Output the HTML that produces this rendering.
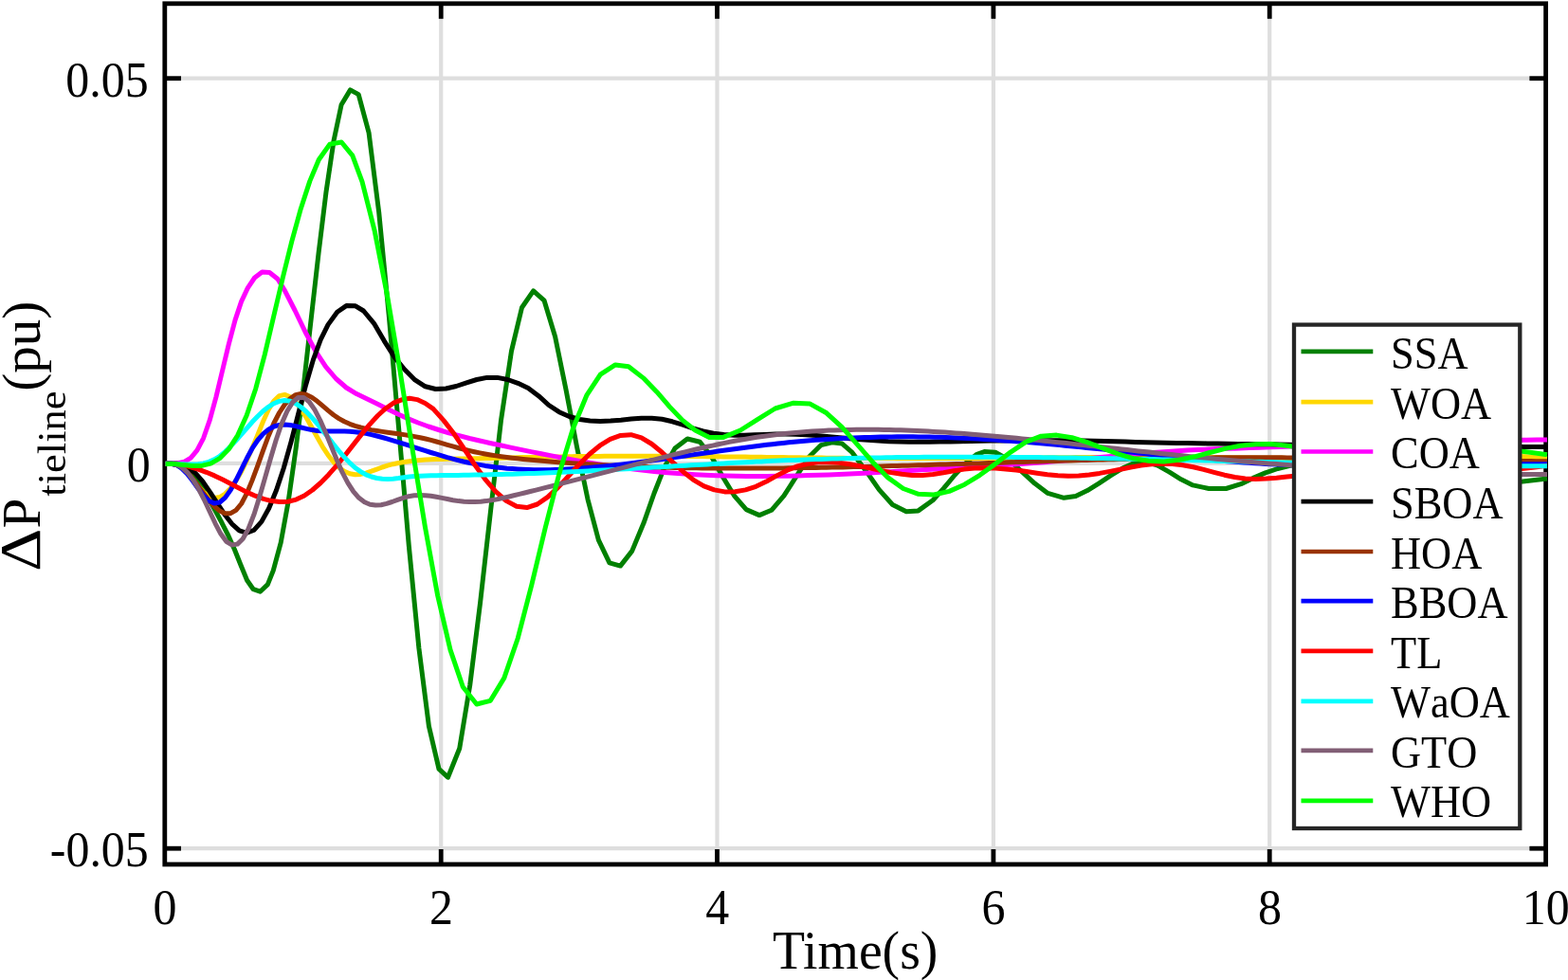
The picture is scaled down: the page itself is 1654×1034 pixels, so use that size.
<!DOCTYPE html>
<html lang="en"><head><meta charset="utf-8"><title>Tie-line power deviation</title>
<style>
html,body{margin:0;padding:0;background:#fff;}
body{width:1654px;height:1034px;overflow:hidden;font-family:"Liberation Serif","Times New Roman",serif;}
svg{display:block;filter:blur(0.45px);}
</style></head><body>
<svg width="1654" height="1034" viewBox="0 0 1654 1034" role="img" aria-label="Tie-line power deviation versus time for ten optimisation algorithms">
<rect x="0" y="0" width="1654" height="1034" fill="#ffffff"/>
<g stroke="#dedede" stroke-width="4.2" fill="none">
<line x1="465.2" y1="3.8" x2="465.2" y2="912.0"/>
<line x1="756.5" y1="3.8" x2="756.5" y2="912.0"/>
<line x1="1047.9" y1="3.8" x2="1047.9" y2="912.0"/>
<line x1="1339.2" y1="3.8" x2="1339.2" y2="912.0"/>
<line x1="173.8" y1="82.7" x2="1630.6" y2="82.7"/>
<line x1="173.8" y1="488.8" x2="1630.6" y2="488.8"/>
<line x1="173.8" y1="895.2" x2="1630.6" y2="895.2"/>
</g>
<g stroke="#000000" stroke-width="4.8" fill="none" stroke-linecap="butt">
<rect x="173.8" y="3.8" width="1456.8" height="908.2"/>
<line x1="465.2" y1="912.0" x2="465.2" y2="896.0"/>
<line x1="465.2" y1="3.8" x2="465.2" y2="19.8"/>
<line x1="756.5" y1="912.0" x2="756.5" y2="896.0"/>
<line x1="756.5" y1="3.8" x2="756.5" y2="19.8"/>
<line x1="1047.9" y1="912.0" x2="1047.9" y2="896.0"/>
<line x1="1047.9" y1="3.8" x2="1047.9" y2="19.8"/>
<line x1="1339.2" y1="912.0" x2="1339.2" y2="896.0"/>
<line x1="1339.2" y1="3.8" x2="1339.2" y2="19.8"/>
<line x1="173.8" y1="82.7" x2="191.0" y2="82.7"/>
<line x1="1630.6" y1="82.7" x2="1613.3999999999999" y2="82.7"/>
<line x1="173.8" y1="488.8" x2="191.0" y2="488.8"/>
<line x1="1630.6" y1="488.8" x2="1613.3999999999999" y2="488.8"/>
<line x1="173.8" y1="895.2" x2="191.0" y2="895.2"/>
<line x1="1630.6" y1="895.2" x2="1613.3999999999999" y2="895.2"/>
</g>
<clipPath id="ax"><rect x="171.3" y="3.8" width="1461.8" height="908.2"/></clipPath>
<g fill="none" stroke-width="5.0" stroke-linejoin="round" stroke-linecap="butt" clip-path="url(#ax)">
<polyline stroke="#008000" points="174.6,489.3 181.2,489.4 187.8,490.6 194.4,493.4 201.1,498.6 207.7,506.4 214.3,516.2 220.9,527.5 227.5,539.5 234.1,551.8 240.8,565.0 247.4,579.7 254.0,596.2 260.6,612.2 267.2,621.7 274.4,624.2 282.4,616.6 288.2,602.1 296.2,572.6 304.2,528.7 312.2,472.7 320.2,407.7 328.1,337.3 336.1,266.8 344.1,201.8 352.1,148.2 360.1,110.5 369.5,94.9 378.2,99.6 389.1,140.2 399.7,224.0 410.2,332.3 420.8,454.0 431.3,575.7 441.9,684.0 452.4,766.1 463.0,811.4 472.5,820.2 484.7,789.8 495.7,723.1 506.6,635.8 517.6,538.5 528.6,442.8 539.5,370.3 550.5,324.5 562.6,306.9 574.1,317.2 585.6,355.3 597.0,411.1 608.5,471.4 620.0,526.8 631.4,569.9 642.9,593.8 654.4,597.1 666.7,581.4 679.0,551.8 690.0,520.5 701.0,492.6 712.0,472.9 725.1,463.0 738.3,466.3 750.5,481.7 762.8,503.8 775.0,523.7 787.2,537.6 801.0,543.6 813.8,538.3 826.9,523.2 840.0,502.7 853.0,482.6 866.1,469.6 877.7,466.7 888.3,468.1 899.0,477.4 913.2,496.4 927.3,516.6 941.5,532.5 956.0,539.7 968.6,538.9 984.1,527.7 995.7,514.9 1007.3,501.0 1018.9,488.4 1030.5,479.3 1038.3,476.6 1049.9,477.2 1063.8,484.9 1077.6,497.4 1091.5,510.1 1105.3,520.4 1122.3,525.3 1134.7,523.5 1147.0,517.6 1159.4,509.9 1171.8,501.6 1184.1,494.1 1196.5,488.6 1208.8,487.2 1221.2,491.1 1233.6,498.2 1245.9,505.8 1258.3,511.9 1275.2,515.5 1293.3,515.5 1309.0,510.7 1321.9,504.4 1334.8,498.9 1347.8,494.5 1360.7,491.3 1373.6,489.1 1386.5,487.8 1399.4,487.2 1412.4,487.4 1425.3,488.2 1438.2,489.5 1451.1,491.3 1464.0,493.3 1477.0,495.5 1489.9,497.9 1502.8,500.3 1515.7,502.6 1528.6,504.7 1541.6,506.5 1554.5,508.0 1567.4,509.0 1580.3,509.4 1593.2,509.1 1606.2,508.1 1619.1,506.4 1632.0,505.1"/>
<polyline stroke="#ffd700" points="174.6,489.3 180.3,489.3 186.0,490.4 191.7,493.7 197.5,499.0 203.2,505.6 208.9,512.7 214.6,519.1 220.3,523.6 226.0,525.4 231.8,524.6 237.5,521.1 243.2,515.3 248.9,507.3 254.6,497.4 260.3,485.8 266.0,473.0 271.8,459.0 277.5,444.8 283.2,432.3 288.9,423.0 294.6,417.6 300.3,416.4 306.1,418.7 311.8,424.0 317.5,431.6 323.2,440.8 328.9,450.9 334.6,461.3 340.3,471.3 346.1,480.2 351.8,487.5 357.5,493.2 363.2,497.2 368.9,499.7 374.6,500.7 380.4,500.4 386.1,499.1 391.8,497.2 397.5,495.1 403.2,493.0 408.9,491.2 414.6,489.7 420.4,488.5 426.1,487.5 431.8,486.7 437.5,486.0 443.2,485.5 448.9,485.1 454.6,484.8 460.4,484.6 466.1,484.4 471.8,484.3 477.5,484.2 483.2,484.1 488.9,484.0 494.7,483.9 500.4,483.8 506.1,483.7 511.8,483.5 517.5,483.4 523.2,483.3 528.9,483.2 534.7,483.0 540.4,482.9 546.1,482.8 551.8,482.6 557.5,482.5 563.2,482.4 569.0,482.3 574.7,482.2 580.4,482.1 586.1,482.0 591.8,481.9 597.5,481.8 603.2,481.7 609.0,481.6 614.7,481.5 620.4,481.5 626.1,481.4 631.8,481.4 637.5,481.3 643.3,481.3 649.0,481.3 654.7,481.3 660.4,481.3 666.1,481.3 671.8,481.3 677.5,481.3 683.3,481.3 689.0,481.3 694.7,481.3 700.4,481.3 706.1,481.4 711.8,481.4 717.6,481.4 723.3,481.5 729.0,481.5 734.7,481.6 740.4,481.6 746.1,481.7 751.8,481.8 757.6,481.8 763.3,481.9 769.0,481.9 774.7,482.0 780.4,482.1 786.1,482.1 791.9,482.2 797.6,482.3 803.3,482.3 809.0,482.4 814.7,482.5 820.4,482.6 826.1,482.6 831.9,482.7 837.6,482.8 843.3,482.8 849.0,482.9 854.7,483.0 860.4,483.0 866.2,483.1 871.9,483.2 877.6,483.2 883.3,483.3 889.0,483.3 894.7,483.4 900.4,483.4 906.2,483.4 911.9,483.5 917.6,483.5 923.3,483.5 929.0,483.6 934.7,483.6 940.4,483.6 946.2,483.6 951.9,483.6 957.6,483.6 963.3,483.6 969.0,483.6 974.7,483.6 980.5,483.6 986.2,483.6 991.9,483.6 997.6,483.5 1003.3,483.5 1009.0,483.5 1014.7,483.5 1020.5,483.4 1026.2,483.4 1031.9,483.4 1037.6,483.3 1043.3,483.3 1049.0,483.2 1054.8,483.2 1060.5,483.2 1066.2,483.1 1071.9,483.1 1077.6,483.0 1083.3,483.0 1089.0,482.9 1094.8,482.9 1100.5,482.9 1106.2,482.8 1111.9,482.8 1117.6,482.7 1123.3,482.7 1129.1,482.7 1134.8,482.6 1140.5,482.6 1146.2,482.5 1151.9,482.5 1157.6,482.5 1163.3,482.5 1169.1,482.4 1174.8,482.4 1180.5,482.4 1186.2,482.4 1191.9,482.4 1197.6,482.4 1203.4,482.4 1209.1,482.4 1214.8,482.4 1220.5,482.4 1226.2,482.4 1231.9,482.4 1237.6,482.4 1243.4,482.4 1249.1,482.5 1254.8,482.5 1260.5,482.5 1266.2,482.6 1271.9,482.6 1277.7,482.7 1283.4,482.7 1289.1,482.8 1294.8,482.8 1300.5,482.9 1306.2,482.9 1311.9,483.0 1317.7,483.1 1323.4,483.1 1329.1,483.2 1334.8,483.2 1340.5,483.2 1346.2,483.3 1352.0,483.3 1357.7,483.4 1363.4,483.4 1369.1,483.4 1374.8,483.4 1380.5,483.4 1386.2,483.4 1392.0,483.4 1397.7,483.4 1403.4,483.4 1409.1,483.3 1414.8,483.3 1420.5,483.2 1426.2,483.2 1432.0,483.1 1437.7,483.1 1443.4,483.0 1449.1,482.9 1454.8,482.8 1460.5,482.7 1466.3,482.6 1472.0,482.5 1477.7,482.4 1483.4,482.2 1489.1,482.1 1494.8,481.9 1500.5,481.8 1506.3,481.6 1512.0,481.4 1517.7,481.2 1523.4,481.1 1529.1,480.9 1534.8,480.7 1540.6,480.6 1546.3,480.5 1552.0,480.4 1557.7,480.3 1563.4,480.3 1569.1,480.3 1574.8,480.4 1580.6,480.5 1586.3,480.6 1592.0,480.8 1597.7,481.1 1603.4,481.4 1609.1,481.8 1614.9,482.2 1620.6,482.7 1626.3,483.1 1632.0,483.4"/>
<polyline stroke="#ff00ff" points="174.6,489.3 181.3,489.2 187.9,488.8 194.6,487.2 201.3,483.1 207.9,475.2 214.6,462.3 221.3,443.1 228.0,418.6 234.6,391.0 241.3,363.1 248.0,337.9 254.6,318.1 261.3,303.9 268.6,293.0 276.5,286.9 284.3,287.5 292.8,294.2 300.3,306.3 311.1,327.5 322.0,350.2 332.8,370.4 343.6,386.8 354.4,399.5 365.3,409.0 376.1,415.6 386.9,420.8 397.7,426.0 408.6,431.5 419.4,436.8 430.2,441.6 441.0,446.0 451.9,450.0 462.7,453.5 473.5,456.8 484.4,459.7 495.2,462.5 506.0,465.0 516.8,467.5 527.7,469.8 538.5,472.1 549.3,474.4 560.1,476.6 571.0,478.8 581.8,480.9 592.6,483.0 603.5,485.0 614.3,486.9 625.1,488.7 635.9,490.4 646.8,492.1 657.6,493.6 668.4,495.0 679.2,496.3 690.1,497.4 700.9,498.4 711.7,499.3 722.5,500.1 733.4,500.7 744.2,501.3 755.0,501.7 765.9,502.0 776.7,502.3 787.5,502.4 798.3,502.5 809.2,502.4 820.0,502.3 830.8,502.2 841.6,501.9 852.5,501.6 863.3,501.3 874.1,500.9 884.9,500.4 895.8,499.9 906.6,499.4 917.4,498.9 928.3,498.3 939.1,497.7 949.9,497.1 960.7,496.5 971.6,495.8 982.4,495.2 993.2,494.6 1004.0,494.0 1014.9,493.4 1025.7,492.7 1036.5,492.1 1047.4,491.4 1058.2,490.7 1069.0,490.0 1079.8,489.3 1090.7,488.5 1101.5,487.7 1112.3,486.8 1123.1,485.9 1134.0,484.9 1144.8,483.9 1155.6,482.9 1166.4,481.9 1177.3,480.9 1188.1,479.9 1198.9,479.0 1209.8,478.1 1220.6,477.2 1231.4,476.5 1242.2,475.7 1253.1,475.1 1263.9,474.6 1274.7,474.1 1285.5,473.6 1296.4,473.3 1307.2,472.9 1318.0,472.5 1328.8,472.2 1339.7,471.8 1350.5,471.5 1361.3,471.1 1372.2,470.7 1383.0,470.4 1393.8,470.0 1404.6,469.6 1415.5,469.2 1426.3,468.8 1437.1,468.5 1447.9,468.1 1458.8,467.7 1469.6,467.4 1480.4,467.0 1491.3,466.7 1502.1,466.3 1512.9,466.0 1523.7,465.7 1534.6,465.5 1545.4,465.2 1556.2,465.0 1567.0,464.8 1577.9,464.6 1588.7,464.4 1599.5,464.3 1610.3,464.2 1621.2,464.1 1632.0,464.0"/>
<polyline stroke="#000000" points="174.6,489.3 182.4,489.5 190.2,490.6 198.0,493.4 205.8,498.9 213.6,507.7 221.3,518.8 229.1,530.9 236.9,542.7 244.7,552.8 252.5,559.8 260.3,562.3 268.1,559.2 275.9,550.4 283.7,536.3 291.5,517.3 299.3,493.8 307.0,466.4 314.8,436.1 322.6,406.2 330.4,379.6 338.2,358.4 346.0,342.6 355.7,329.3 365.3,322.6 375.0,322.8 383.5,328.0 394.4,341.1 405.2,359.6 416.1,376.8 426.9,390.0 437.8,400.9 448.6,407.8 459.5,410.5 470.4,410.0 481.2,407.5 492.1,403.9 502.9,400.5 513.8,398.4 524.6,398.4 535.5,400.5 546.3,404.3 557.2,409.5 568.1,417.7 578.9,427.5 589.8,434.7 600.6,439.5 611.5,442.5 622.3,444.0 633.2,444.4 644.1,444.0 654.9,443.2 665.8,442.1 676.6,441.3 687.5,441.2 698.3,442.3 709.2,444.8 720.1,448.1 730.9,451.8 741.8,455.0 752.6,457.3 763.5,458.6 774.3,459.2 785.2,459.2 796.0,458.8 806.9,458.4 817.8,458.1 828.6,458.0 839.5,458.3 850.3,458.8 861.2,459.6 872.0,460.4 882.9,461.4 893.8,462.4 904.6,463.4 915.5,464.3 926.3,465.1 937.2,465.7 948.0,466.0 958.9,466.2 969.8,466.3 980.6,466.3 991.5,466.1 1002.3,466.0 1013.2,465.7 1024.0,465.5 1034.9,465.3 1045.7,465.1 1056.6,465.0 1067.5,464.8 1078.3,464.8 1089.2,464.7 1100.0,464.7 1110.9,464.7 1121.7,464.8 1132.6,465.0 1143.5,465.1 1154.3,465.3 1165.2,465.6 1176.0,465.8 1186.9,466.1 1197.7,466.4 1208.6,466.7 1219.5,466.9 1230.3,467.2 1241.2,467.4 1252.0,467.6 1262.9,467.8 1273.7,467.9 1284.6,468.1 1295.4,468.2 1306.3,468.4 1317.2,468.5 1328.0,468.7 1338.9,468.8 1349.7,469.0 1360.6,469.2 1371.4,469.4 1382.3,469.6 1393.2,469.7 1404.0,469.9 1414.9,470.1 1425.7,470.3 1436.6,470.4 1447.4,470.6 1458.3,470.8 1469.2,470.9 1480.0,471.1 1490.9,471.2 1501.7,471.3 1512.6,471.4 1523.4,471.5 1534.3,471.6 1545.1,471.6 1556.0,471.7 1566.9,471.7 1577.7,471.7 1588.6,471.7 1599.4,471.6 1610.3,471.6 1621.1,471.5 1632.0,471.4"/>
<polyline stroke="#993300" points="174.6,489.4 180.3,489.3 186.0,490.3 191.7,493.2 197.5,498.2 203.2,504.9 208.9,512.5 214.6,520.3 220.3,527.8 226.0,534.3 231.8,539.1 237.5,541.7 243.2,541.7 248.9,538.4 254.6,531.5 260.3,520.7 266.0,506.9 271.8,491.3 277.5,475.3 283.2,460.0 288.9,446.5 294.6,435.5 300.3,426.8 306.1,420.5 311.8,416.7 317.5,415.4 323.2,416.5 328.9,419.3 334.6,423.3 340.3,428.1 346.1,433.1 351.8,437.7 357.5,441.6 363.2,444.8 368.9,447.3 374.6,449.4 380.4,451.0 386.1,452.4 391.8,453.6 397.5,454.5 403.2,455.4 408.9,456.2 414.6,457.0 420.4,457.7 426.1,458.6 431.8,459.5 437.5,460.6 443.2,461.7 448.9,463.0 454.6,464.4 460.4,466.0 466.1,467.6 471.8,469.3 477.5,470.9 483.2,472.5 488.9,474.0 494.7,475.4 500.4,476.7 506.1,477.9 511.8,479.0 517.5,480.0 523.2,480.9 528.9,481.7 534.7,482.5 540.4,483.2 546.1,483.8 551.8,484.4 557.5,485.0 563.2,485.5 569.0,486.0 574.7,486.5 580.4,487.0 586.1,487.4 591.8,487.9 597.5,488.3 603.2,488.7 609.0,489.1 614.7,489.4 620.4,489.8 626.1,490.1 631.8,490.5 637.5,490.8 643.3,491.1 649.0,491.3 654.7,491.6 660.4,491.8 666.1,492.1 671.8,492.3 677.5,492.5 683.3,492.7 689.0,492.9 694.7,493.0 700.4,493.2 706.1,493.3 711.8,493.4 717.6,493.6 723.3,493.7 729.0,493.7 734.7,493.8 740.4,493.9 746.1,494.0 751.8,494.0 757.6,494.1 763.3,494.1 769.0,494.1 774.7,494.1 780.4,494.1 786.1,494.1 791.9,494.1 797.6,494.1 803.3,494.1 809.0,494.0 814.7,494.0 820.4,493.9 826.1,493.9 831.9,493.8 837.6,493.7 843.3,493.7 849.0,493.6 854.7,493.5 860.4,493.4 866.2,493.3 871.9,493.2 877.6,493.1 883.3,493.0 889.0,492.9 894.7,492.7 900.4,492.6 906.2,492.5 911.9,492.4 917.6,492.2 923.3,492.1 929.0,491.9 934.7,491.8 940.4,491.6 946.2,491.5 951.9,491.3 957.6,491.2 963.3,491.0 969.0,490.8 974.7,490.7 980.5,490.5 986.2,490.3 991.9,490.1 997.6,490.0 1003.3,489.8 1009.0,489.6 1014.7,489.4 1020.5,489.3 1026.2,489.1 1031.9,488.9 1037.6,488.7 1043.3,488.5 1049.0,488.4 1054.8,488.2 1060.5,488.0 1066.2,487.8 1071.9,487.6 1077.6,487.5 1083.3,487.3 1089.0,487.1 1094.8,486.9 1100.5,486.7 1106.2,486.6 1111.9,486.4 1117.6,486.2 1123.3,486.1 1129.1,485.9 1134.8,485.7 1140.5,485.6 1146.2,485.4 1151.9,485.3 1157.6,485.1 1163.3,485.0 1169.1,484.8 1174.8,484.7 1180.5,484.5 1186.2,484.4 1191.9,484.3 1197.6,484.1 1203.4,484.0 1209.1,483.9 1214.8,483.8 1220.5,483.7 1226.2,483.6 1231.9,483.5 1237.6,483.4 1243.4,483.3 1249.1,483.2 1254.8,483.1 1260.5,483.0 1266.2,483.0 1271.9,482.9 1277.7,482.9 1283.4,482.8 1289.1,482.8 1294.8,482.7 1300.5,482.7 1306.2,482.7 1311.9,482.7 1317.7,482.7 1323.4,482.7 1329.1,482.7 1334.8,482.7 1340.5,482.7 1346.2,482.8 1352.0,482.8 1357.7,482.9 1363.4,482.9 1369.1,483.0 1374.8,483.0 1380.5,483.1 1386.2,483.2 1392.0,483.2 1397.7,483.3 1403.4,483.4 1409.1,483.5 1414.8,483.6 1420.5,483.7 1426.2,483.8 1432.0,483.9 1437.7,484.0 1443.4,484.1 1449.1,484.2 1454.8,484.3 1460.5,484.4 1466.3,484.5 1472.0,484.6 1477.7,484.7 1483.4,484.8 1489.1,484.9 1494.8,485.0 1500.5,485.2 1506.3,485.3 1512.0,485.4 1517.7,485.5 1523.4,485.6 1529.1,485.7 1534.8,485.8 1540.6,485.8 1546.3,485.9 1552.0,486.0 1557.7,486.1 1563.4,486.2 1569.1,486.3 1574.8,486.3 1580.6,486.4 1586.3,486.4 1592.0,486.5 1597.7,486.5 1603.4,486.6 1609.1,486.6 1614.9,486.6 1620.6,486.7 1626.3,486.7 1632.0,486.7"/>
<polyline stroke="#0000ff" points="174.6,489.3 180.3,489.3 186.0,490.5 191.7,494.2 197.5,500.0 203.2,507.3 208.9,515.3 214.6,522.7 220.3,528.4 226.0,531.1 231.8,530.0 237.5,525.1 243.2,517.1 248.9,506.8 254.6,495.3 260.3,483.8 266.0,473.2 271.8,464.5 277.5,457.9 283.2,453.1 288.9,450.0 294.6,448.4 300.3,448.0 306.1,448.5 311.8,449.6 317.5,451.0 323.2,452.4 328.9,453.6 334.6,454.4 340.3,454.8 346.1,455.0 351.8,455.1 357.5,455.1 363.2,455.1 368.9,455.3 374.6,455.8 380.4,456.5 386.1,457.4 391.8,458.6 397.5,460.0 403.2,461.5 408.9,463.2 414.6,464.9 420.4,466.6 426.1,468.4 431.8,470.2 437.5,472.1 443.2,473.9 448.9,475.7 454.6,477.5 460.4,479.2 466.1,480.9 471.8,482.6 477.5,484.1 483.2,485.6 488.9,487.0 494.7,488.2 500.4,489.4 506.1,490.4 511.8,491.4 517.5,492.2 523.2,493.0 528.9,493.6 534.7,494.2 540.4,494.6 546.1,495.0 551.8,495.3 557.5,495.5 563.2,495.7 569.0,495.8 574.7,495.8 580.4,495.7 586.1,495.6 591.8,495.4 597.5,495.1 603.2,494.8 609.0,494.5 614.7,494.1 620.4,493.6 626.1,493.1 631.8,492.6 637.5,492.0 643.3,491.4 649.0,490.8 654.7,490.2 660.4,489.5 666.1,488.8 671.8,488.0 677.5,487.3 683.3,486.6 689.0,485.8 694.7,485.0 700.4,484.2 706.1,483.4 711.8,482.6 717.6,481.8 723.3,481.0 729.0,480.1 734.7,479.3 740.4,478.5 746.1,477.7 751.8,476.9 757.6,476.1 763.3,475.3 769.0,474.5 774.7,473.7 780.4,472.9 786.1,472.2 791.9,471.4 797.6,470.7 803.3,470.0 809.0,469.3 814.7,468.7 820.4,468.0 826.1,467.4 831.9,466.8 837.6,466.3 843.3,465.7 849.0,465.2 854.7,464.8 860.4,464.3 866.2,463.9 871.9,463.5 877.6,463.2 883.3,462.8 889.0,462.5 894.7,462.2 900.4,462.0 906.2,461.7 911.9,461.5 917.6,461.4 923.3,461.2 929.0,461.1 934.7,461.0 940.4,460.9 946.2,460.8 951.9,460.8 957.6,460.8 963.3,460.8 969.0,460.9 974.7,461.0 980.5,461.1 986.2,461.2 991.9,461.3 997.6,461.5 1003.3,461.7 1009.0,461.9 1014.7,462.2 1020.5,462.4 1026.2,462.7 1031.9,463.0 1037.6,463.4 1043.3,463.7 1049.0,464.1 1054.8,464.4 1060.5,464.9 1066.2,465.3 1071.9,465.7 1077.6,466.1 1083.3,466.6 1089.0,467.1 1094.8,467.6 1100.5,468.1 1106.2,468.6 1111.9,469.1 1117.6,469.6 1123.3,470.2 1129.1,470.7 1134.8,471.3 1140.5,471.8 1146.2,472.4 1151.9,473.0 1157.6,473.5 1163.3,474.1 1169.1,474.7 1174.8,475.3 1180.5,475.9 1186.2,476.5 1191.9,477.0 1197.6,477.6 1203.4,478.2 1209.1,478.8 1214.8,479.4 1220.5,479.9 1226.2,480.5 1231.9,481.1 1237.6,481.6 1243.4,482.2 1249.1,482.7 1254.8,483.3 1260.5,483.8 1266.2,484.3 1271.9,484.8 1277.7,485.3 1283.4,485.8 1289.1,486.2 1294.8,486.7 1300.5,487.1 1306.2,487.5 1311.9,487.9 1317.7,488.3 1323.4,488.7 1329.1,489.0 1334.8,489.4 1340.5,489.7 1346.2,490.0 1352.0,490.2 1357.7,490.5 1363.4,490.7 1369.1,490.9 1374.8,491.1 1380.5,491.2 1386.2,491.3 1392.0,491.5 1397.7,491.6 1403.4,491.6 1409.1,491.7 1414.8,491.7 1420.5,491.7 1426.2,491.8 1432.0,491.7 1437.7,491.7 1443.4,491.7 1449.1,491.7 1454.8,491.6 1460.5,491.5 1466.3,491.5 1472.0,491.4 1477.7,491.3 1483.4,491.2 1489.1,491.1 1494.8,491.0 1500.5,490.9 1506.3,490.8 1512.0,490.7 1517.7,490.6 1523.4,490.5 1529.1,490.4 1534.8,490.3 1540.6,490.2 1546.3,490.1 1552.0,490.1 1557.7,490.0 1563.4,489.9 1569.1,489.8 1574.8,489.8 1580.6,489.7 1586.3,489.7 1592.0,489.7 1597.7,489.7 1603.4,489.7 1609.1,489.7 1614.9,489.7 1620.6,489.8 1626.3,489.8 1632.0,489.8"/>
<polyline stroke="#ff0000" points="174.6,489.3 183.2,489.6 191.8,490.7 200.4,492.6 209.0,495.1 217.7,498.3 226.3,501.9 234.9,506.1 243.5,510.5 252.1,515.0 260.7,519.4 269.3,523.2 277.9,526.4 286.5,528.6 295.1,529.6 303.8,529.2 312.4,527.1 321.0,523.0 329.6,517.0 338.2,509.5 346.8,500.7 355.4,490.9 364.0,480.4 372.6,469.4 381.2,458.4 389.9,447.9 398.5,438.5 407.1,430.7 415.7,424.9 424.3,421.6 432.1,420.3 440.0,421.6 448.5,425.5 457.0,431.4 468.0,443.6 479.0,457.8 489.9,474.0 500.9,490.5 511.9,505.8 522.9,518.7 533.9,528.4 544.9,534.3 555.8,535.6 566.8,532.0 577.8,524.4 588.8,514.1 599.8,502.3 610.7,490.3 621.7,479.3 632.7,470.2 643.7,463.4 654.7,459.4 665.6,458.7 676.6,461.8 687.6,468.5 698.6,477.5 709.6,487.6 720.6,497.7 731.5,506.4 742.5,512.8 753.5,516.9 764.5,518.9 775.5,518.8 786.4,516.9 797.4,513.3 808.4,508.1 819.4,501.9 830.4,496.2 841.3,491.9 852.3,489.2 863.3,487.8 874.3,487.5 885.3,488.3 896.3,489.7 907.2,491.8 918.2,494.1 929.2,496.5 940.2,498.6 951.2,500.3 962.1,501.4 973.1,501.4 984.1,500.5 995.1,498.8 1006.1,496.8 1017.0,495.1 1028.0,494.1 1039.0,493.7 1050.0,494.0 1061.0,494.9 1072.0,496.1 1082.9,497.6 1093.9,499.2 1104.9,500.7 1115.9,501.7 1126.9,502.2 1137.8,501.9 1148.8,500.9 1159.8,499.4 1170.8,497.4 1181.8,495.2 1192.7,493.0 1203.7,491.1 1214.7,489.7 1225.7,489.2 1236.7,489.6 1247.7,490.8 1258.6,492.8 1269.6,495.4 1280.6,498.3 1291.6,501.2 1302.6,503.5 1313.5,505.0 1324.5,505.4 1335.5,505.0 1346.5,504.2 1357.5,503.1 1368.4,502.1 1379.4,501.3 1390.4,500.6 1401.4,500.1 1412.4,499.7 1423.4,499.4 1434.3,499.1 1445.3,499.0 1456.3,498.9 1467.3,498.8 1478.3,498.8 1489.2,498.8 1500.2,498.7 1511.2,498.7 1522.2,498.5 1533.2,498.4 1544.1,498.1 1555.1,497.8 1566.1,497.3 1577.1,496.7 1588.1,496.0 1599.1,495.1 1610.0,494.0 1621.0,492.7 1632.0,491.3"/>
<polyline stroke="#00ffff" points="174.6,489.3 180.3,489.2 186.0,489.4 191.7,489.7 197.5,490.0 203.2,490.1 208.9,489.8 214.6,488.9 220.3,487.3 226.0,484.8 231.8,481.3 237.5,476.6 243.2,471.1 248.9,464.9 254.6,458.4 260.3,451.8 266.0,445.3 271.8,439.3 277.5,433.8 283.2,429.3 288.9,425.7 294.6,423.4 300.3,422.5 306.1,423.3 311.8,425.7 317.5,429.5 323.2,434.5 328.9,440.4 334.6,447.0 340.3,454.1 346.1,461.4 351.8,468.7 357.5,475.8 363.2,482.4 368.9,488.4 374.6,493.5 380.4,497.6 386.1,500.8 391.8,503.0 397.5,504.5 403.2,505.3 408.9,505.5 414.6,505.2 420.4,504.6 426.1,503.8 431.8,503.1 437.5,502.6 443.2,502.2 448.9,502.0 454.6,501.8 460.4,501.7 466.1,501.6 471.8,501.5 477.5,501.5 483.2,501.4 488.9,501.3 494.7,501.2 500.4,501.1 506.1,501.0 511.8,500.9 517.5,500.8 523.2,500.6 528.9,500.5 534.7,500.3 540.4,500.2 546.1,500.0 551.8,499.8 557.5,499.6 563.2,499.4 569.0,499.2 574.7,499.0 580.4,498.8 586.1,498.5 591.8,498.3 597.5,498.0 603.2,497.7 609.0,497.5 614.7,497.2 620.4,496.9 626.1,496.6 631.8,496.3 637.5,496.0 643.3,495.7 649.0,495.4 654.7,495.1 660.4,494.8 666.1,494.5 671.8,494.1 677.5,493.8 683.3,493.5 689.0,493.1 694.7,492.8 700.4,492.5 706.1,492.2 711.8,491.8 717.6,491.5 723.3,491.2 729.0,490.8 734.7,490.5 740.4,490.2 746.1,489.9 751.8,489.5 757.6,489.2 763.3,488.9 769.0,488.6 774.7,488.3 780.4,488.0 786.1,487.7 791.9,487.4 797.6,487.1 803.3,486.9 809.0,486.6 814.7,486.3 820.4,486.1 826.1,485.8 831.9,485.6 837.6,485.4 843.3,485.2 849.0,485.0 854.7,484.8 860.4,484.6 866.2,484.4 871.9,484.2 877.6,484.0 883.3,483.9 889.0,483.7 894.7,483.6 900.4,483.4 906.2,483.3 911.9,483.2 917.6,483.1 923.3,483.0 929.0,482.9 934.7,482.8 940.4,482.7 946.2,482.6 951.9,482.5 957.6,482.5 963.3,482.4 969.0,482.4 974.7,482.3 980.5,482.3 986.2,482.2 991.9,482.2 997.6,482.2 1003.3,482.2 1009.0,482.2 1014.7,482.2 1020.5,482.2 1026.2,482.2 1031.9,482.2 1037.6,482.2 1043.3,482.2 1049.0,482.2 1054.8,482.3 1060.5,482.3 1066.2,482.3 1071.9,482.4 1077.6,482.4 1083.3,482.5 1089.0,482.5 1094.8,482.6 1100.5,482.7 1106.2,482.7 1111.9,482.8 1117.6,482.9 1123.3,483.0 1129.1,483.0 1134.8,483.1 1140.5,483.2 1146.2,483.3 1151.9,483.4 1157.6,483.5 1163.3,483.6 1169.1,483.7 1174.8,483.8 1180.5,483.9 1186.2,484.0 1191.9,484.2 1197.6,484.3 1203.4,484.4 1209.1,484.5 1214.8,484.6 1220.5,484.8 1226.2,484.9 1231.9,485.0 1237.6,485.2 1243.4,485.3 1249.1,485.4 1254.8,485.5 1260.5,485.7 1266.2,485.8 1271.9,486.0 1277.7,486.1 1283.4,486.2 1289.1,486.4 1294.8,486.5 1300.5,486.6 1306.2,486.8 1311.9,486.9 1317.7,487.1 1323.4,487.2 1329.1,487.3 1334.8,487.5 1340.5,487.6 1346.2,487.8 1352.0,487.9 1357.7,488.0 1363.4,488.2 1369.1,488.3 1374.8,488.4 1380.5,488.6 1386.2,488.7 1392.0,488.8 1397.7,489.0 1403.4,489.1 1409.1,489.2 1414.8,489.3 1420.5,489.5 1426.2,489.6 1432.0,489.7 1437.7,489.8 1443.4,489.9 1449.1,490.0 1454.8,490.2 1460.5,490.3 1466.3,490.4 1472.0,490.5 1477.7,490.6 1483.4,490.7 1489.1,490.8 1494.8,490.8 1500.5,490.9 1506.3,491.0 1512.0,491.1 1517.7,491.2 1523.4,491.2 1529.1,491.3 1534.8,491.4 1540.6,491.4 1546.3,491.5 1552.0,491.5 1557.7,491.6 1563.4,491.6 1569.1,491.7 1574.8,491.7 1580.6,491.7 1586.3,491.8 1592.0,491.8 1597.7,491.8 1603.4,491.8 1609.1,491.8 1614.9,491.8 1620.6,491.8 1626.3,491.8 1632.0,491.8"/>
<polyline stroke="#815e75" points="174.6,489.4 180.4,489.3 186.3,490.4 192.1,493.4 197.9,498.8 203.7,506.4 209.6,516.0 215.4,527.3 221.2,539.8 227.1,552.3 232.9,563.3 238.7,571.3 244.6,575.0 250.4,574.1 256.2,568.5 262.0,558.0 267.9,542.9 273.7,524.5 279.5,504.4 285.4,483.8 291.2,464.3 297.0,447.2 302.9,433.8 308.7,424.4 314.5,419.5 320.3,419.4 326.2,424.0 332.0,432.4 337.8,443.6 343.7,456.9 349.5,471.1 355.3,485.3 361.1,498.4 367.0,509.6 372.8,518.7 378.6,525.3 384.5,529.7 390.3,532.2 396.1,533.0 402.0,532.7 407.8,531.4 413.6,529.5 419.4,527.4 425.3,525.3 431.1,523.7 436.9,522.8 442.8,522.5 448.6,522.7 454.4,523.3 460.3,524.3 466.1,525.4 471.9,526.5 477.7,527.7 483.6,528.6 489.4,529.3 495.2,529.6 501.1,529.5 506.9,529.2 512.7,528.6 518.5,527.7 524.4,526.7 530.2,525.5 536.0,524.2 541.9,522.8 547.7,521.4 553.5,520.0 559.4,518.5 565.2,517.1 571.0,515.6 576.8,514.1 582.7,512.7 588.5,511.2 594.3,509.7 600.2,508.2 606.0,506.7 611.8,505.2 617.6,503.7 623.5,502.2 629.3,500.7 635.1,499.2 641.0,497.7 646.8,496.2 652.6,494.7 658.5,493.2 664.3,491.7 670.1,490.2 675.9,488.7 681.8,487.2 687.6,485.7 693.4,484.2 699.3,482.7 705.1,481.2 710.9,479.7 716.8,478.3 722.6,476.8 728.4,475.4 734.2,474.0 740.1,472.7 745.9,471.3 751.7,470.1 757.6,468.8 763.4,467.6 769.2,466.4 775.0,465.3 780.9,464.2 786.7,463.2 792.5,462.2 798.4,461.3 804.2,460.5 810.0,459.7 815.9,458.9 821.7,458.2 827.5,457.6 833.3,457.0 839.2,456.4 845.0,455.9 850.8,455.5 856.7,455.1 862.5,454.7 868.3,454.4 874.2,454.1 880.0,453.9 885.8,453.7 891.6,453.5 897.5,453.4 903.3,453.3 909.1,453.2 915.0,453.2 920.8,453.3 926.6,453.3 932.4,453.4 938.3,453.5 944.1,453.7 949.9,453.8 955.8,454.0 961.6,454.3 967.4,454.5 973.3,454.8 979.1,455.1 984.9,455.4 990.7,455.8 996.6,456.1 1002.4,456.5 1008.2,456.9 1014.1,457.3 1019.9,457.8 1025.7,458.2 1031.6,458.7 1037.4,459.2 1043.2,459.7 1049.0,460.2 1054.9,460.7 1060.7,461.2 1066.5,461.8 1072.4,462.3 1078.2,462.9 1084.0,463.4 1089.8,464.0 1095.7,464.6 1101.5,465.2 1107.3,465.8 1113.2,466.4 1119.0,467.0 1124.8,467.6 1130.7,468.3 1136.5,468.9 1142.3,469.5 1148.1,470.2 1154.0,470.8 1159.8,471.4 1165.6,472.1 1171.5,472.7 1177.3,473.3 1183.1,474.0 1189.0,474.6 1194.8,475.2 1200.6,475.9 1206.4,476.5 1212.3,477.1 1218.1,477.7 1223.9,478.4 1229.8,479.0 1235.6,479.6 1241.4,480.2 1247.2,480.8 1253.1,481.4 1258.9,481.9 1264.7,482.5 1270.6,483.1 1276.4,483.6 1282.2,484.2 1288.1,484.7 1293.9,485.2 1299.7,485.8 1305.5,486.3 1311.4,486.8 1317.2,487.3 1323.0,487.8 1328.9,488.2 1334.7,488.7 1340.5,489.2 1346.3,489.6 1352.2,490.1 1358.0,490.5 1363.8,491.0 1369.7,491.4 1375.5,491.8 1381.3,492.2 1387.2,492.6 1393.0,493.0 1398.8,493.4 1404.6,493.7 1410.5,494.1 1416.3,494.5 1422.1,494.8 1428.0,495.1 1433.8,495.5 1439.6,495.8 1445.5,496.1 1451.3,496.4 1457.1,496.7 1462.9,496.9 1468.8,497.2 1474.6,497.5 1480.4,497.7 1486.3,497.9 1492.1,498.2 1497.9,498.4 1503.7,498.6 1509.6,498.8 1515.4,499.0 1521.2,499.2 1527.1,499.3 1532.9,499.5 1538.7,499.6 1544.6,499.8 1550.4,499.9 1556.2,500.0 1562.0,500.1 1567.9,500.2 1573.7,500.3 1579.5,500.3 1585.4,500.4 1591.2,500.4 1597.0,500.5 1602.9,500.5 1608.7,500.5 1614.5,500.5 1620.3,500.5 1626.2,500.5 1632.0,500.4"/>
<polyline stroke="#00ff00" points="174.6,489.4 184.1,489.5 193.6,490.6 203.1,491.5 212.6,491.4 222.2,489.1 231.7,483.7 241.2,474.1 250.7,459.3 260.2,438.3 269.7,410.2 279.2,374.4 288.7,333.7 298.3,293.0 307.8,254.7 317.3,220.2 326.8,191.1 336.3,168.5 347.9,152.1 360.2,150.0 371.8,164.1 382.0,191.7 395.3,244.2 408.6,312.3 421.9,390.8 435.1,474.3 448.4,555.9 461.7,628.5 475.0,685.6 488.3,724.8 502.8,743.0 517.3,739.3 531.8,715.4 546.3,673.2 560.8,617.2 575.3,556.5 589.8,500.0 604.3,452.5 618.8,417.2 633.3,395.2 649.1,384.9 663.0,386.7 679.3,399.4 692.8,413.4 706.3,429.1 719.9,443.4 733.4,454.0 748.2,461.4 763.0,461.4 781.0,454.0 799.4,442.4 817.7,431.0 837.1,425.2 854.5,426.1 871.9,435.8 888.1,450.6 904.2,468.8 920.4,487.4 936.6,503.9 952.8,515.5 968.9,521.3 985.1,522.0 1001.3,518.4 1017.5,511.2 1033.6,501.3 1049.8,489.6 1066.0,477.1 1082.1,466.4 1098.3,460.2 1114.5,459.1 1130.7,461.7 1146.8,466.7 1163.0,472.8 1179.2,478.9 1195.3,483.6 1211.5,486.3 1227.7,486.9 1243.9,485.2 1260.0,481.8 1276.2,477.5 1292.4,473.4 1308.6,470.3 1324.7,468.7 1340.9,468.6 1357.1,470.3 1373.2,472.2 1389.4,473.4 1405.6,474.2 1421.8,474.5 1437.9,474.4 1454.1,474.1 1470.3,473.7 1486.4,473.1 1502.6,472.6 1518.8,472.3 1535.0,472.1 1551.1,472.2 1567.3,472.8 1583.5,473.8 1599.7,475.5 1615.8,477.6 1632.0,479.7"/>
</g>
<g font-family="'Liberation Serif', 'Times New Roman', serif" font-size="52.3" fill="#000000">
<text transform="translate(174.0,974.8) scale(0.955,1)" text-anchor="middle">0</text>
<text transform="translate(465.4,974.8) scale(0.955,1)" text-anchor="middle">2</text>
<text transform="translate(756.7,974.8) scale(0.955,1)" text-anchor="middle">4</text>
<text transform="translate(1048.1,974.8) scale(0.955,1)" text-anchor="middle">6</text>
<text transform="translate(1339.4,974.8) scale(0.955,1)" text-anchor="middle">8</text>
<text transform="translate(1630.8,974.8) scale(0.955,1)" text-anchor="middle">10</text>
<text transform="translate(156.7,102.3) scale(0.955,1)" text-anchor="end">0.05</text>
<text transform="translate(158.8,507.8) scale(0.955,1)" text-anchor="end">0</text>
<text transform="translate(156.8,913.5) scale(0.955,1)" text-anchor="end">-0.05</text>
</g>
<text font-family="'Liberation Serif', 'Times New Roman', serif" font-size="56.5" transform="translate(902.2,1022) scale(0.986,1)" text-anchor="middle" fill="#000">Time(s)</text>
<text transform="translate(41.6,600) rotate(-90)" font-family="'Liberation Serif', 'Times New Roman', serif" fill="#000" font-size="57.0"><tspan x="-3.0" y="0" font-size="61.0" textLength="45.51" lengthAdjust="spacingAndGlyphs">Δ</tspan><tspan x="42.6" y="0">P</tspan><tspan x="76.3" y="27.5" font-size="42.5" textLength="111.2" lengthAdjust="spacingAndGlyphs">tieline</tspan><tspan x="187.3" y="0">(pu)</tspan></text>
<rect x="1365.0" y="342.6" width="238.3" height="531.4" fill="#ffffff" stroke="#262626" stroke-width="4.3"/>
<g font-family="'Liberation Serif', 'Times New Roman', serif" font-size="47.6" fill="#000" style="font-kerning:none">
<line x1="1372.5" y1="370.9" x2="1448.3" y2="370.9" stroke="#008000" stroke-width="4.7"/>
<text transform="translate(1467,388.5) scale(0.934,1)">SSA</text>
<line x1="1372.5" y1="424.1" x2="1448.3" y2="424.1" stroke="#ffd700" stroke-width="4.7"/>
<text transform="translate(1467,441.7) scale(0.934,1)">WOA</text>
<line x1="1372.5" y1="476.5" x2="1448.3" y2="476.5" stroke="#ff00ff" stroke-width="4.7"/>
<text transform="translate(1467,494.1) scale(0.934,1)">COA</text>
<line x1="1372.5" y1="529.2" x2="1448.3" y2="529.2" stroke="#000000" stroke-width="4.7"/>
<text transform="translate(1467,546.8) scale(0.934,1)">SBOA</text>
<line x1="1372.5" y1="582.0" x2="1448.3" y2="582.0" stroke="#993300" stroke-width="4.7"/>
<text transform="translate(1467,599.6) scale(0.934,1)">HOA</text>
<line x1="1372.5" y1="634.1" x2="1448.3" y2="634.1" stroke="#0000ff" stroke-width="4.7"/>
<text transform="translate(1467,651.7) scale(0.934,1)">BBOA</text>
<line x1="1372.5" y1="686.9" x2="1448.3" y2="686.9" stroke="#ff0000" stroke-width="4.7"/>
<text transform="translate(1467,704.5) scale(0.934,1)">TL</text>
<line x1="1372.5" y1="739.8" x2="1448.3" y2="739.8" stroke="#00ffff" stroke-width="4.7"/>
<text transform="translate(1467,757.4) scale(0.934,1)">WaOA</text>
<line x1="1372.5" y1="791.9" x2="1448.3" y2="791.9" stroke="#815e75" stroke-width="4.7"/>
<text transform="translate(1467,809.5) scale(0.934,1)">GTO</text>
<line x1="1372.5" y1="844.8" x2="1448.3" y2="844.8" stroke="#00ff00" stroke-width="4.7"/>
<text transform="translate(1467,862.4) scale(0.934,1)">WHO</text>
</g>
</svg>
</body></html>
